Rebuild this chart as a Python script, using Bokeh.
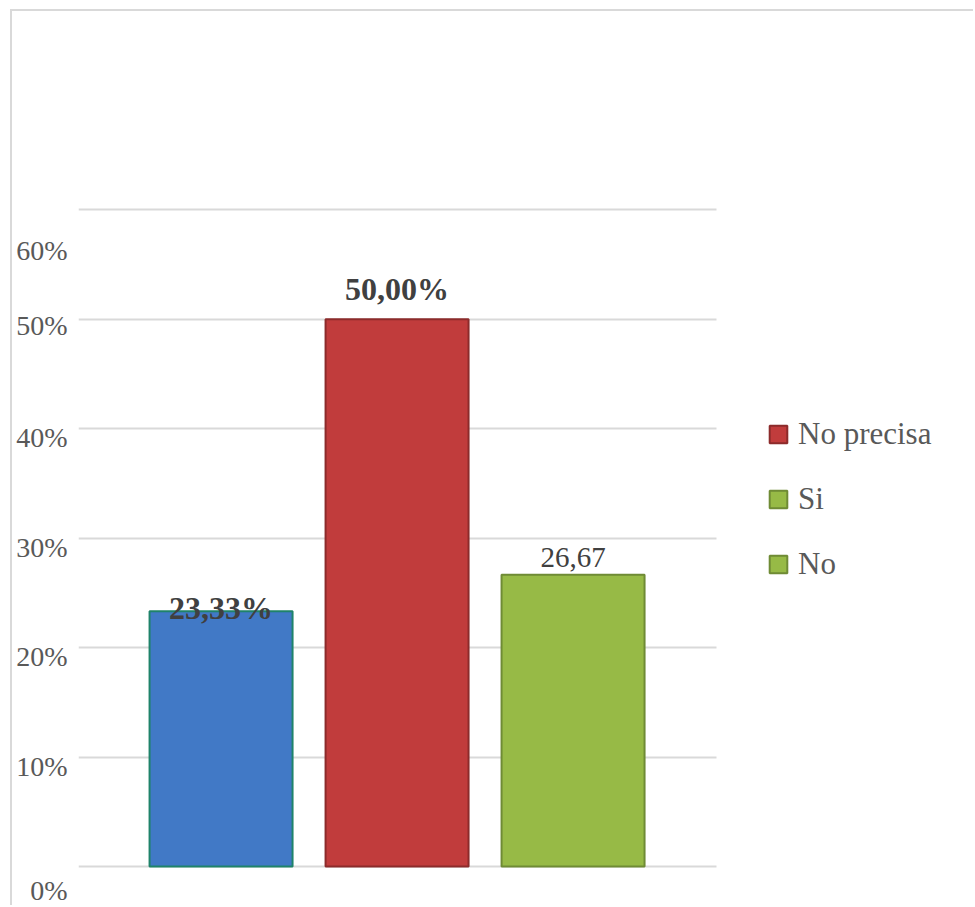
from bokeh.plotting import figure
from bokeh.models import ColumnDataSource, FixedTicker, Legend, LegendItem, Range1d
from bokeh.core.properties import value
from bokeh.embed import file_html
from bokeh.resources import INLINE

# ---- data ----
categories = ["Si", "No precisa", "No"]
values = [23.33, 50.00, 26.67]
value_labels = ["23,33%", "50,00%", "26,67"]
legend_labels = ["No precisa", "Si", "No"]
legend_index = [1, 2, 2]
grid_ticks = [0, 10, 20, 30, 40, 50, 60]
tick_labels = ["0%", "10%", "20%", "30%", "40%", "50%", "60%"]

# ---- style ----
bar_colors = ["#4179c6", "#c13c3c", "#97ba46"]
bar_lines = ["#1f836a", "#8c2b2b", "#6f8b35"]
label_styles = ["bold", "bold", "normal"]
label_sizes = ["32px", "32px", "29px"]
label_offsets = [-3, -30, -17]
tick_label_drop_px = [25, 9, 9, 9, 9, 6, 41]

Y0, Y1 = -2.83, 70.0
FRAME_H = 797
ppu = FRAME_H / (Y1 - Y0)
label_pos = [round(t - d / ppu, 3) for t, d in zip(grid_ticks, tick_label_drop_px)]

FRAME_W = 897
PX_PER_CAT = 176.0
X0 = 0.19
X1 = X0 + FRAME_W / PX_PER_CAT
GRID_X1 = X0 + 638 / PX_PER_CAT

xs = list(range(1, len(categories) + 1))

p = figure(width=963, height=896,
           x_range=Range1d(X0, X1), y_range=Range1d(Y0, Y1),
           output_backend="svg", toolbar_location=None,
           min_border_left=66, min_border_right=0, min_border_top=89, min_border_bottom=10)
p.styles = {"border-left": "2px solid #d9d9d9", "border-top": "2px solid #d9d9d9",
            "margin-left": "10px", "margin-top": "9px"}
p.outline_line_color = None
p.background_fill_color = "white"
p.border_fill_color = "white"

src = ColumnDataSource(dict(x=xs, cat=categories, val=values, lbl=value_labels,
                            fill=bar_colors, line=bar_lines, style=label_styles,
                            size=label_sizes, off=label_offsets))

bars = p.vbar(x="x", top="val", bottom=0, width=0.8125, source=src,
              fill_color="fill", line_color="line", line_width=2)

p.text(x="x", y="val", text="lbl", source=src, text_align="center",
       text_baseline="middle", y_offset="off",
       text_font=value("Liberation Serif"), text_font_style="style",
       text_font_size="size", text_color="#404040")

p.xaxis.visible = False
p.xgrid.visible = False
p.ygrid.ticker = FixedTicker(ticks=grid_ticks)
p.ygrid.cross_bounds = (X0, GRID_X1)
p.ygrid.grid_line_color = "#d9d9d9"
p.ygrid.grid_line_width = 2

ax = p.yaxis[0]
ax.ticker = FixedTicker(ticks=label_pos)
ax.major_label_overrides = {pos: lab for pos, lab in zip(label_pos, tick_labels)}
ax.axis_line_color = None
ax.major_tick_line_color = None
ax.minor_tick_line_color = None
ax.major_tick_out = 0
ax.major_tick_in = 0
ax.minor_tick_out = 0
ax.major_label_standoff = 11
ax.major_label_text_font = "Liberation Serif"
ax.major_label_text_font_size = "28px"
ax.major_label_text_color = "#595959"

items = [LegendItem(label=l, renderers=[bars], index=i) for l, i in zip(legend_labels, legend_index)]
legend = Legend(items=items, location=(689, 315), orientation="vertical",
                glyph_width=22, glyph_height=22, label_height=22, spacing=29,
                label_standoff=9, padding=0, margin=0,
                label_text_font="Liberation Serif", label_text_font_size="31px",
                label_text_color="#595959", border_line_color=None,
                background_fill_alpha=0)
p.add_layout(legend, "center")

open("out.html", "w").write(file_html(p, INLINE))
